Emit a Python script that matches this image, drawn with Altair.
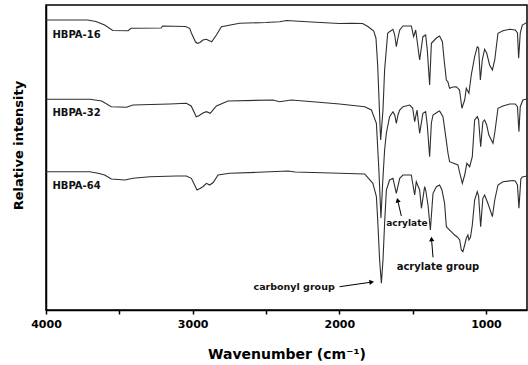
import altair as alt
import pandas as pd

# FTIR spectra of the three hyperbranched polyester acrylates.
# Wavenumber in cm-1, intensity in arbitrary units (traces stacked vertically).
wn_16 = [4000, 3716, 3660, 3600, 3545, 3440, 3420, 3215, 3205, 3050, 3020, 3008, 2980, 2966,
         2950, 2930, 2906, 2890, 2870, 2838, 2804, 2680, 2500, 2407, 2360, 2190, 1998, 1916,
         1841, 1805, 1765, 1750, 1738, 1725, 1718, 1702, 1691, 1670, 1657, 1634, 1622, 1611,
         1600, 1588, 1566, 1509, 1493, 1479, 1452, 1430, 1411, 1400, 1384, 1372, 1338, 1316,
         1297, 1285, 1270, 1259, 1248, 1225, 1202, 1180, 1164, 1145, 1134, 1116, 1100, 1077,
         1059, 1050, 1038, 1025, 1009, 995, 975, 956, 940, 918, 884, 838, 800, 785, 777, 766,
         752, 720]
int_16 = [290, 290, 288.5, 285, 279.5, 279.3, 281.7, 282, 284, 283.5, 281.7, 276.7, 268, 266.7,
          267.5, 270, 270.7, 269.5, 268.3, 275, 283.3, 286.7, 287.5, 288.3, 289.5, 288, 286.5, 286.7,
          286.5, 283.5, 279, 272, 244, 195, 170, 200, 240, 276.7, 278.3, 280.7, 275, 263.3,
          272, 280, 284, 284, 273.3, 280, 250, 273.3, 275, 260, 225, 266.7, 272, 274,
          268.3, 250, 230, 228, 221.7, 223, 223.3, 220, 201.7, 210, 221.7, 216.7, 235, 253.3,
          263.3, 262, 230, 250, 260.7, 257, 245, 240, 250, 276.7, 279.3, 280.7, 280, 277, 251.7, 277,
          285, 287.5]

wn_32 = [4000, 3700, 3620, 3555, 3452, 3407, 3157, 3043, 3010, 2975, 2955, 2930, 2906, 2880,
         2838, 2759, 2452, 2407, 2327, 2180, 1998, 1827, 1781, 1747, 1730, 1716, 1705, 1691,
         1679, 1657, 1634, 1622, 1611, 1600, 1588, 1566, 1520, 1500, 1486, 1470, 1452, 1430,
         1411, 1400, 1384, 1372, 1361, 1327, 1316, 1293, 1274, 1259, 1248, 1225, 1191, 1180,
         1161, 1145, 1130, 1111, 1093, 1077, 1059, 1050, 1036, 1021, 1009, 995, 980, 952, 940,
         918, 884, 838, 800, 785, 775, 766, 748, 720]
int_32 = [210.7, 210.7, 209, 203.3, 202.7, 205, 206, 206.7, 204, 193.3, 194.5, 197, 198.3, 196.7,
          204, 209, 210, 208.3, 210, 208.3, 206, 203.3, 200, 186.7, 140, 92, 125, 160,
          177, 193.3, 198.3, 195, 186.7, 195, 200, 203.3, 205, 202, 188.3, 200, 176.7, 196.7,
          198.3, 185, 153.3, 187, 195, 198.3, 199, 193.3, 173.3, 157, 148.3, 147, 145, 138,
          126.7, 135, 146.7, 143.3, 153.3, 190, 193.3, 190, 163.3, 188, 190, 185, 175, 166.7, 177,
          201.7, 204, 206, 206, 203.3, 178.3, 203.3, 210, 211]

wn_64 = [4000, 3702, 3645, 3600, 3554, 3463, 3407, 3293, 3111, 3043, 3009, 2990, 2970, 2950,
         2930, 2906, 2884, 2860, 2827, 2747, 2555, 2350, 2300, 1998, 1827, 1771, 1747, 1738,
         1725, 1713, 1702, 1691, 1679, 1657, 1634, 1611, 1588, 1566, 1509, 1486, 1475, 1452,
         1440, 1418, 1411, 1395, 1379, 1361, 1338, 1316, 1300, 1282, 1270, 1259, 1225, 1214,
         1195, 1179, 1168, 1157, 1145, 1134, 1123, 1116, 1105, 1093, 1077, 1059, 1050, 1036,
         1021, 1009, 985, 956, 940, 918, 884, 816, 800, 785, 775, 762, 752, 720]
int_64 = [138.3, 138.3, 136.7, 135, 131, 130, 131.7, 133.3, 134, 134, 131.7, 126, 120, 121.5,
          123.3, 126.7, 125, 127.5, 135, 136.7, 137.7, 139, 138, 136.7, 136, 126.7, 113.3, 90,
          50, 26.7, 50, 86.7, 120, 130, 131.7, 116.7, 131.7, 135, 135, 115, 128.3, 120,
          101.7, 123.3, 120, 105, 80, 116.7, 123.3, 125, 120, 106.7, 83.3, 81.7, 76.7, 75,
          73, 70, 60, 58.3, 65, 71.7, 75, 70, 73, 85, 110, 118.3, 114, 83.3,
          111.7, 115, 106, 93.3, 110, 125, 128.3, 129.5, 129, 125, 101.7, 131, 133, 134]

# Sample names and where they are written
sample_names = ["HBPA-16", "HBPA-32", "HBPA-64"]
sample_label_wn = [3956, 3956, 3956]
sample_label_int = [275, 196.7, 124.3]

# Band assignments
band_text = ["acrylate", "acrylate group", "carbonyl group"]
band_text_wn = [1539, 1327, 2308]
band_text_int = [86.7, 42.7, 23.3]
band_text_size = [9, 10, 9.5]

# Arrows: tail -> head, head orientation in degrees
arrow_tail_wn = [1577, 1361, 1998]
arrow_tail_int = [94, 52.7, 23.3]
arrow_head_wn = [1602, 1371, 1779]
arrow_head_int = [109.8, 71, 27.9]
arrow_angle = [347, 356, 82]

tick_values = [1000, 1500, 2000, 2500, 3000, 3500, 4000]

frames = []
for name, wn, it in [("HBPA-16", wn_16, int_16), ("HBPA-32", wn_32, int_32), ("HBPA-64", wn_64, int_64)]:
    frames.append(pd.DataFrame({"sample": name, "wavenumber": wn, "intensity": it}))
spectra = pd.concat(frames, ignore_index=True)

labels_df = pd.DataFrame({"text": sample_names, "wavenumber": sample_label_wn, "intensity": sample_label_int})
bands_df = pd.DataFrame({"text": band_text, "wavenumber": band_text_wn, "intensity": band_text_int,
                         "fs": band_text_size})
arrows_df = pd.DataFrame({"wavenumber": arrow_tail_wn, "intensity": arrow_tail_int,
                          "wn2": arrow_head_wn, "int2": arrow_head_int, "angle": arrow_angle})

FONT = "DejaVu Sans"
x_scale = alt.Scale(domain=[720, 4000], reverse=True, nice=False, zero=False)
y_scale = alt.Scale(domain=[0, 305], nice=False, zero=False)

x_axis = alt.Axis(
    values=tick_values,
    labelExpr="datum.value % 1000 === 0 ? format(datum.value, 'd') : ''",
    labelOverlap=False, labelFlush=False, grid=False,
    tickSize=4, tickWidth=1.5, tickColor="black",
    domainColor="black", domainWidth=1.5,
    labelFont=FONT, labelFontWeight="bold", labelFontSize=11, labelColor="black", labelPadding=4,
    title="Wavenumber (cm\u207b\u00b9)", titleFont=FONT, titleFontWeight="bold", titleFontSize=14,
    titleColor="black", titleY=44, titleBaseline="middle",
)
y_axis = alt.Axis(
    labels=False, ticks=False, grid=False, domainColor="black", domainWidth=1.5,
    title="Relative intensity", titleFont=FONT, titleFontWeight="bold", titleFontSize=13,
    titleColor="black", titleAngle=270, titleX=-21, titleY=140, titleBaseline="bottom",
    titleAlign="center",
)

lines = alt.Chart(spectra).mark_line(color="#2e2e2e", strokeWidth=1.1, clip=True).encode(
    x=alt.X("wavenumber:Q", scale=x_scale, axis=x_axis),
    y=alt.Y("intensity:Q", scale=y_scale, axis=y_axis),
    detail="sample:N",
)

names = alt.Chart(labels_df).mark_text(font=FONT, fontWeight="bold", fontSize=10, align="left",
                                       baseline="middle", color="#111").encode(
    x=alt.X("wavenumber:Q", scale=x_scale),
    y=alt.Y("intensity:Q", scale=y_scale),
    text="text:N",
)

bands = alt.Chart(bands_df).mark_text(font=FONT, fontWeight="bold", align="center",
                                      baseline="middle", color="#111").encode(
    x=alt.X("wavenumber:Q", scale=x_scale),
    y=alt.Y("intensity:Q", scale=y_scale),
    text="text:N",
    size=alt.Size("fs:Q", scale=None),
)

shafts = alt.Chart(arrows_df).mark_rule(color="black", strokeWidth=1).encode(
    x=alt.X("wavenumber:Q", scale=x_scale),
    y=alt.Y("intensity:Q", scale=y_scale),
    x2="wn2:Q",
    y2="int2:Q",
)

heads = alt.Chart(arrows_df).mark_point(shape="triangle-up", filled=True, size=28, color="black",
                                        opacity=1).encode(
    x=alt.X("wn2:Q", scale=x_scale),
    y=alt.Y("int2:Q", scale=y_scale),
    angle=alt.Angle("angle:Q", scale=None),
)

chart = alt.layer(lines, names, bands, shafts, heads).properties(
    width=481, height=305,
    padding={"left": 46, "top": 5, "right": 1, "bottom": 55},
    autosize=alt.AutoSizeParams(type="none"),
    background="white",
).configure_view(stroke="black", strokeWidth=1.5)

chart.save("out.html", embed_options={"renderer": "svg", "actions": False})
